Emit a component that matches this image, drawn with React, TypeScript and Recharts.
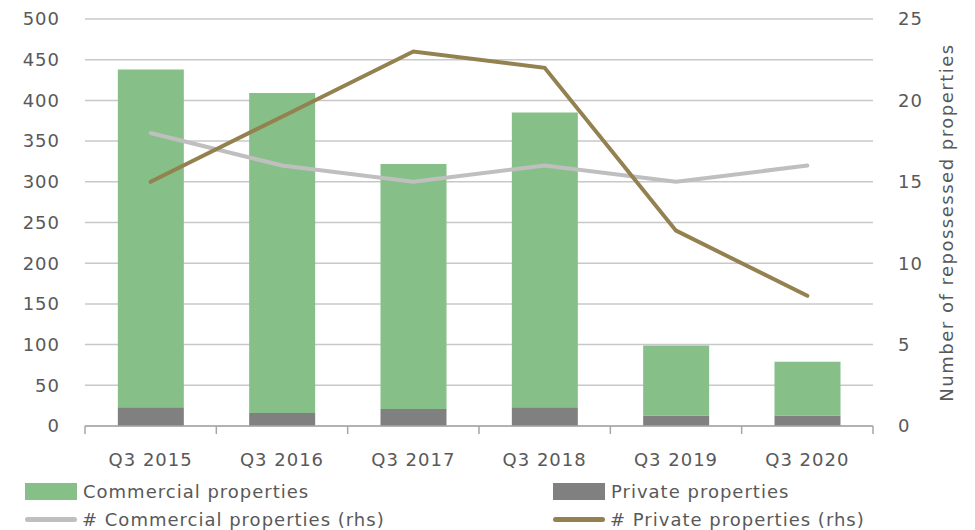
import {
  ComposedChart,
  Bar,
  Line,
  XAxis,
  YAxis,
  CartesianGrid,
  Legend,
} from "recharts";

const quarters = ["Q3 2015", "Q3 2016", "Q3 2017", "Q3 2018", "Q3 2019", "Q3 2020"];
const commercialProps = [415, 393, 301, 362, 86, 66];
const privateProps = [23, 16, 21, 23, 13, 13];
const commercialCount = [18, 16, 15, 16, 15, 16];
const privateCount = [15, 19, 23, 22, 12, 8];
const leftTicks = [0, 50, 100, 150, 200, 250, 300, 350, 400, 450, 500];
const rightTicks = [0, 5, 10, 15, 20, 25];

const W = 975;
const H = 530;
const LEFT_W = 85;
const RIGHT_W = 102;
const BAND = (W - LEFT_W - RIGHT_W) / quarters.length;

const TEXT = "#595959";
const FONT = "'DejaVu Sans', sans-serif";

const data = quarters.map((q, i) => ({
  q,
  priv: privateProps[i],
  comm: commercialProps[i],
  commN: commercialCount[i],
  privN: privateCount[i],
}));

const XTick = (props: any) => {
  const { x, y, payload, index } = props;
  const half = BAND / 2;
  const last = index === quarters.length - 1;
  return (
    <g>
      <line x1={x - half} x2={x - half} y1={y} y2={y + 8} stroke="#A6A6A6" strokeWidth={1.5} />
      {last && <line x1={x + half} x2={x + half} y1={y} y2={y + 8} stroke="#A6A6A6" strokeWidth={1.5} />}
      <text x={x} y={y + 40} textAnchor="middle" fill={TEXT} fontSize={18} letterSpacing={1} fontFamily={FONT}>
        {payload.value}
      </text>
    </g>
  );
};

const legendItems = [
  { label: "Commercial properties", color: "#86C088", kind: "rect" },
  { label: "Private properties", color: "#808080", kind: "rect" },
  { label: "# Commercial properties (rhs)", color: "#BFBFBF", kind: "line" },
  { label: "# Private properties (rhs)", color: "#938150", kind: "line" },
];

const LegendBox = () => (
  <div
    style={{
      display: "grid",
      gridTemplateColumns: "528px 400px",
      rowGap: 6,
      paddingLeft: 25,
      fontFamily: FONT,
      fontSize: 18,
      letterSpacing: 1,
      color: TEXT,
    }}
  >
    {legendItems.map((it) => (
      <div key={it.label} style={{ display: "flex", alignItems: "center", height: 22 }}>
        {it.kind === "rect" ? (
          <div style={{ width: 52, height: 17, background: it.color, marginRight: 6 }} />
        ) : (
          <div style={{ width: 52, height: 5, background: it.color, borderRadius: 2.5, marginRight: 5 }} />
        )}
        <span>{it.label}</span>
      </div>
    ))}
  </div>
);

export default function App() {
  return (
    <div style={{ position: "absolute", left: 0, top: 0, width: W, height: H, background: "#fff" }}>
      <ComposedChart
        width={W}
        height={H}
        data={data}
        margin={{ top: 19, right: 0, bottom: 0, left: 0 }}
        barCategoryGap="25%"
      >
        <CartesianGrid vertical={false} stroke="#C8C8C8" strokeWidth={1.5} yAxisId="left" />
        <XAxis
          dataKey="q"
          height={54}
          tickLine={false}
          tickSize={0}
          tickMargin={0}
          axisLine={{ stroke: "#A6A6A6", strokeWidth: 1.5 }}
          tick={<XTick />}
          interval={0}
        />
        <YAxis
          yAxisId="left"
          width={LEFT_W}
          domain={[0, 500]}
          ticks={leftTicks}
          axisLine={false}
          tickLine={false}
          tickMargin={19}
          tick={{ fill: TEXT, fontSize: 18, letterSpacing: 1, fontFamily: FONT }}
        />
        <YAxis
          yAxisId="right"
          orientation="right"
          width={RIGHT_W}
          domain={[0, 25]}
          ticks={rightTicks}
          axisLine={false}
          tickLine={false}
          tickMargin={19}
          tick={{ fill: TEXT, fontSize: 18, letterSpacing: 1, fontFamily: FONT }}
          label={{
            value: "Number of repossessed properties",
            angle: -90,
            position: "insideRight",
            offset: 28,
            fill: TEXT,
            fontSize: 18,
            letterSpacing: 1.5,
            fontFamily: FONT,
            style: { textAnchor: "middle" },
          }}
        />
        <Legend verticalAlign="bottom" height={50} content={() => <LegendBox />} />
        <Bar yAxisId="left" dataKey="priv" stackId="s" fill="#808080" isAnimationActive={false} />
        <Bar yAxisId="left" dataKey="comm" stackId="s" fill="#86C088" isAnimationActive={false} />
        <Line
          yAxisId="right"
          dataKey="commN"
          stroke="#BFBFBF"
          strokeWidth={4}
          dot={false}
          strokeLinecap="round"
          isAnimationActive={false}
        />
        <Line
          yAxisId="right"
          dataKey="privN"
          stroke="#938150"
          strokeWidth={4}
          dot={false}
          strokeLinecap="round"
          isAnimationActive={false}
        />
      </ComposedChart>
    </div>
  );
}
